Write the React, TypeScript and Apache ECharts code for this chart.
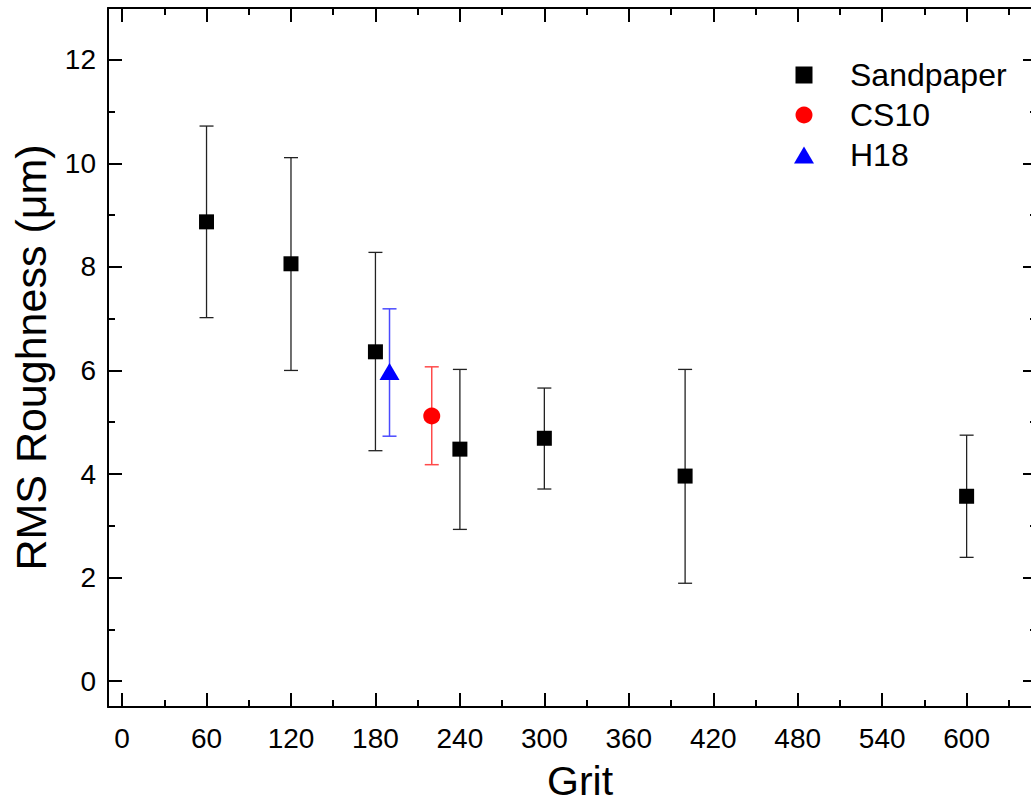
import React, { useEffect, useRef } from "react";
import * as echarts from "echarts";

// ---- data ----
const sandGrit = [60, 120, 180, 240, 300, 400, 600];
const sandRms = [8.87, 8.06, 6.36, 4.48, 4.69, 3.96, 3.57];
const sandLow = [7.02, 6.0, 4.45, 2.93, 3.71, 1.89, 2.39];
const sandHigh = [10.72, 10.11, 8.28, 6.02, 5.66, 6.02, 4.75];

const cs10Grit = [220];
const cs10Rms = [5.12];
const cs10Low = [4.18];
const cs10High = [6.07];

const h18Grit = [190];
const h18Rms = [5.98];
const h18Low = [4.73];
const h18High = [7.19];

const xMajor = [0, 60, 120, 180, 240, 300, 360, 420, 480, 540, 600];
const xMinor = [30, 90, 150, 210, 270, 330, 390, 450, 510, 570, 630];
const yMajor = [0, 2, 4, 6, 8, 10, 12];
const yMinor = [1, 3, 5, 7, 9, 11];

const FONT = "Liberation Sans, Arial, sans-serif";

function errSeries(name: string, xs: number[], lo: number[], hi: number[], color: string, lw: number) {
  return {
    name: name + "-err",
    type: "custom",
    xAxisIndex: 0,
    yAxisIndex: 0,
    z: 1,
    silent: true,
    encode: { x: 0, y: [1, 2] },
    data: xs.map((x, i) => [x, lo[i], hi[i]]),
    renderItem: (params: any, api: any) => {
      const x = api.value(0);
      const top = api.coord([x, api.value(2)]);
      const bot = api.coord([x, api.value(1)]);
      const hw = 7;
      const st = { stroke: color, lineWidth: lw };
      return {
        type: "group",
        children: [
          { type: "line", shape: { x1: top[0], y1: top[1], x2: bot[0], y2: bot[1] }, style: st },
          { type: "line", shape: { x1: top[0] - hw, y1: top[1], x2: top[0] + hw, y2: top[1] }, style: st },
          { type: "line", shape: { x1: bot[0] - hw, y1: bot[1], x2: bot[0] + hw, y2: bot[1] }, style: st },
        ],
      };
    },
  };
}

function tickAxis(position: string, isX: boolean, values: number[], len: number, lineShow: boolean, extra: any = {}) {
  const base: any = {
    type: "value",
    position,
    min: isX ? -10 : -0.5,
    max: isX ? 650 : 13,
    axisLine: { show: lineShow, onZero: false, lineStyle: { color: "#000", width: 2 } },
    axisTick: {
      show: true,
      inside: true,
      length: len,
      customValues: values,
      lineStyle: { color: "#000", width: 2 },
    },
    axisLabel: { show: false },
    splitLine: { show: false },
    minorTick: { show: false },
    minorSplitLine: { show: false },
  };
  return { ...base, ...extra };
}

export default function App() {
  const ref = useRef<HTMLDivElement>(null);
  useEffect(() => {
    if (!ref.current) return;
    const chart = echarts.init(ref.current, undefined, { renderer: "svg" });
    const labelStyle = { show: true, fontSize: 28, color: "#000", fontFamily: FONT };
    chart.setOption({
      animation: false,
      backgroundColor: "#fff",
      grid: {
        left: 108,
        top: 8,
        width: 929,
        height: 699,
        containLabel: false,
        outerBoundsMode: "none",
      },
      legend: {
        orient: "vertical",
        left: 794,
        top: 59,
        padding: 0,
        itemWidth: 20,
        itemHeight: 17,
        itemGap: 8,
        data: [
          { name: "Sandpaper", icon: "path://M0,0L15,0L15,15L0,15Z" },
          { name: "CS10", icon: "circle" },
          { name: "H18", icon: "triangle" },
        ],
        textStyle: { fontSize: 32, color: "#000", fontFamily: FONT, padding: [0, 0, 0, 31] },
      },
      xAxis: [
        tickAxis("bottom", true, xMajor, 14, true, {
          axisLabel: { ...labelStyle, margin: 17, customValues: xMajor },
          name: "Grit",
          nameLocation: "middle",
          nameGap: 53,
          nameTextStyle: { fontSize: 41, color: "#000", fontFamily: FONT, padding: [0, 0, 0, 15] },
        }),
        tickAxis("bottom", true, xMinor, 7, false),
        tickAxis("top", true, xMajor, 14, true),
        tickAxis("top", true, xMinor, 7, false),
      ],
      yAxis: [
        tickAxis("left", false, yMajor, 14, true, {
          axisLabel: { ...labelStyle, margin: 12, customValues: yMajor },
          name: "RMS Roughness (\u03bcm)",
          nameLocation: "middle",
          nameGap: 56,
          nameTextStyle: { fontSize: 43, color: "#000", fontFamily: FONT },
        }),
        tickAxis("left", false, yMinor, 7, false),
        tickAxis("right", false, yMajor, 14, true),
        tickAxis("right", false, yMinor, 7, false),
      ],
      series: [
        errSeries("Sandpaper", sandGrit, sandLow, sandHigh, "#222", 1.3),
        errSeries("CS10", cs10Grit, cs10Low, cs10High, "#ff4a4a", 1.5),
        errSeries("H18", h18Grit, h18Low, h18High, "#4a4aff", 1.5),
        {
          name: "Sandpaper",
          type: "scatter",
          z: 3,
          symbol: "rect",
          symbolSize: 15,
          itemStyle: { color: "#000", opacity: 1 },
          data: sandGrit.map((x, i) => [x, sandRms[i]]),
        },
        {
          name: "CS10",
          type: "scatter",
          z: 3,
          symbol: "circle",
          symbolSize: 17,
          itemStyle: { color: "#ff0000", opacity: 1 },
          data: cs10Grit.map((x, i) => [x, cs10Rms[i]]),
        },
        {
          name: "H18",
          type: "scatter",
          z: 3,
          symbol: "triangle",
          symbolSize: [20, 17],
          itemStyle: { color: "#0000ff", opacity: 1 },
          data: h18Grit.map((x, i) => [x, h18Rms[i]]),
        },
      ],
    });
    return () => chart.dispose();
  }, []);
  return (
    <div
      ref={ref}
      style={{ position: "absolute", left: 0, top: 0, width: 1031, height: 803, overflow: "hidden" }}
    />
  );
}
